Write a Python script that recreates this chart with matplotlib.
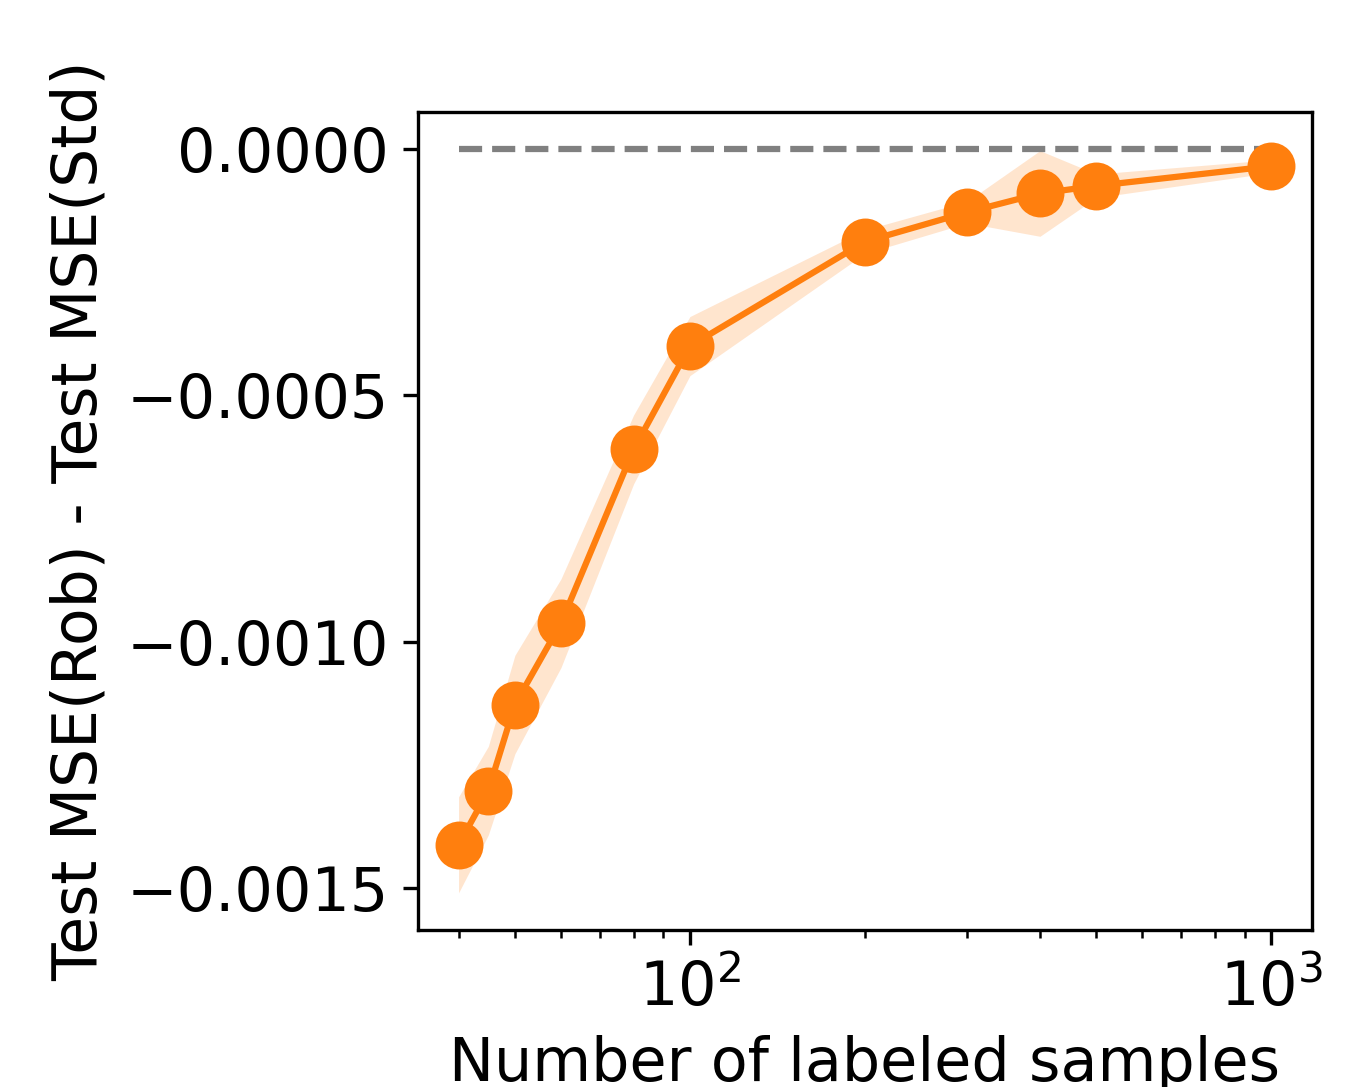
import matplotlib
matplotlib.use('Agg')
import matplotlib.pyplot as plt
import numpy as np

# number of labeled samples and difference in test MSE (robust - standard)
n_labeled = [40, 45, 50, 60, 80, 100, 200, 300, 400, 500, 1000]
mse_diff = [-0.001413, -0.001303, -0.001128, -0.000963, -0.000610, -0.000400,
            -0.000188, -0.000128, -0.000090, -0.0000745, -0.0000346]
mse_diff_std = [0.0000975, 0.00009, 0.0001, 0.00009, 0.00007, 0.00006,
                0.000024, 0.000022, 0.000087, 0.000024, 0.000013]

plt.rcParams['font.size'] = 14.5

fig = plt.figure(figsize=(1346 / 300, 1087 / 300), dpi=300)
ax = fig.add_axes([0.3105, 0.1444, 0.6642, 0.7526])

x = np.array(n_labeled)
y = np.array(mse_diff)
s = np.array(mse_diff_std)

ax.plot(x, np.zeros_like(y), '--', color='gray', lw=1.5)
ax.fill_between(x, y - s, y + s, color='tab:orange', alpha=0.2, lw=0)
ax.plot(x, y, '-o', color='tab:orange', lw=1.5, markersize=10.5)

ax.set_xscale('log')
ax.set_xlabel('Number of labeled samples')
ax.set_ylabel('Test MSE(Rob) - Test MSE(Std)', fontsize=14.8)

plt.savefig('out.png', dpi=300)
